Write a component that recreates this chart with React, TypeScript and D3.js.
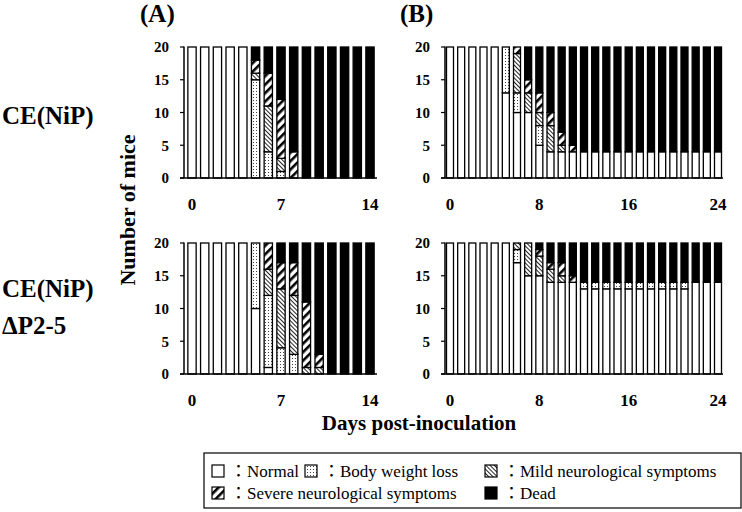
import React from 'react';
import * as d3 from 'd3';

// ---------- DATA ----------
const daysA = [0, 1, 2, 3, 4, 5, 6, 7, 8, 9, 10, 11, 12, 13, 14];
const daysB = [0, 1, 2, 3, 4, 5, 6, 7, 8, 9, 10, 11, 12, 13, 14, 15, 16, 17, 18, 19, 20, 21, 22, 23, 24];
const ticksA = [0, 7, 14];
const ticksB = [0, 8, 16, 24];
const yTicks = [0, 5, 10, 15, 20];

// CE(NiP), panel A
const a1Normal = [20, 20, 20, 20, 20, 0, 0, 0, 0, 0, 0, 0, 0, 0, 0];
const a1Bwl = [0, 0, 0, 0, 0, 15, 4, 1, 0, 0, 0, 0, 0, 0, 0];
const a1Mild = [0, 0, 0, 0, 0, 1, 7, 2, 0, 0, 0, 0, 0, 0, 0];
const a1Severe = [0, 0, 0, 0, 0, 2, 5, 9, 4, 0, 0, 0, 0, 0, 0];
const a1Dead = [0, 0, 0, 0, 0, 2, 4, 8, 16, 20, 20, 20, 20, 20, 20];

// CE(NiP), panel B
const b1Normal = [20, 20, 20, 20, 20, 13, 10, 10, 5, 4, 4, 4, 4, 4, 4, 4, 4, 4, 4, 4, 4, 4, 4, 4, 4];
const b1Bwl = [0, 0, 0, 0, 0, 7, 3, 0, 3, 0, 0, 0, 0, 0, 0, 0, 0, 0, 0, 0, 0, 0, 0, 0, 0];
const b1Mild = [0, 0, 0, 0, 0, 0, 6, 3, 2, 4, 1, 0, 0, 0, 0, 0, 0, 0, 0, 0, 0, 0, 0, 0, 0];
const b1Severe = [0, 0, 0, 0, 0, 0, 1, 2, 3, 2, 2, 1, 0, 0, 0, 0, 0, 0, 0, 0, 0, 0, 0, 0, 0];
const b1Dead = [0, 0, 0, 0, 0, 0, 0, 5, 7, 10, 13, 15, 16, 16, 16, 16, 16, 16, 16, 16, 16, 16, 16, 16, 16];

// CE(NiP)ΔP2-5, panel A
const a2Normal = [20, 20, 20, 20, 20, 10, 1, 0, 0, 0, 0, 0, 0, 0, 0];
const a2Bwl = [0, 0, 0, 0, 0, 10, 11, 4, 3, 0, 0, 0, 0, 0, 0];
const a2Mild = [0, 0, 0, 0, 0, 0, 4, 9, 9, 1, 1, 0, 0, 0, 0];
const a2Severe = [0, 0, 0, 0, 0, 0, 4, 4, 5, 10, 2, 0, 0, 0, 0];
const a2Dead = [0, 0, 0, 0, 0, 0, 0, 3, 3, 9, 17, 20, 20, 20, 20];

// CE(NiP)ΔP2-5, panel B
const b2Normal = [20, 20, 20, 20, 20, 20, 17, 15, 15, 14, 14, 14, 13, 13, 13, 13, 13, 13, 13, 13, 13, 13, 14, 14, 14];
const b2Bwl = [0, 0, 0, 0, 0, 0, 2, 0, 0, 0, 0, 0, 1, 1, 1, 1, 1, 1, 1, 1, 1, 1, 0, 0, 0];
const b2Mild = [0, 0, 0, 0, 0, 0, 1, 5, 3, 2, 1, 0, 0, 0, 0, 0, 0, 0, 0, 0, 0, 0, 0, 0, 0];
const b2Severe = [0, 0, 0, 0, 0, 0, 0, 0, 1, 1, 2, 1, 0, 0, 0, 0, 0, 0, 0, 0, 0, 0, 0, 0, 0];
const b2Dead = [0, 0, 0, 0, 0, 0, 0, 0, 1, 3, 3, 5, 6, 6, 6, 6, 6, 6, 6, 6, 6, 6, 6, 6, 6];

const keys = ['normal', 'bwl', 'mild', 'severe', 'dead'];
const legendLabels = ['Normal', 'Body weight loss', 'Mild neurological symptoms', 'Severe neurological symptoms', 'Dead'];

// ---------- STYLE ----------
const SERIF = '"Liberation Serif", "Times New Roman", "DejaVu Serif", serif';
const LEGEND_FONT = '"Liberation Serif", "Times New Roman", "Noto Sans CJK JP", serif';
const fills: Record<string, string> = {
  normal: '#ffffff',
  bwl: 'url(#pDots)',
  mild: 'url(#pMild)',
  severe: 'url(#pSevere)',
  dead: '#000000',
};

function buildRows(days: number[], n: number[], b: number[], m: number[], s: number[], d: number[]) {
  return days.map((day, i) => ({ day, normal: n[i], bwl: b[i], mild: m[i], severe: s[i], dead: d[i] }));
}

type PanelProps = {
  rows: any[];
  days: number[];
  xTicks: number[];
  axisX: number;
  axisEnd: number;
  xRange: [number, number];
  yTop: number;
  yBottom: number;
  barW: number;
};

function Panel({ rows, days, xTicks, axisX, axisEnd, xRange, yTop, yBottom, barW }: PanelProps) {
  const x = d3.scalePoint<number>().domain(days).range(xRange);
  const y = d3.scaleLinear().domain([0, 20]).range([yBottom, yTop]);
  const series = d3.stack<any>().keys(keys)(rows);
  return (
    <g>
      {series.map((s) => (
        <g key={s.key}>
          {s.map((seg, i) => {
            const h = y(seg[0]) - y(seg[1]);
            if (h <= 0) return null;
            return (
              <rect
                key={i}
                x={(x(seg.data.day) as number) - barW / 2}
                y={y(seg[1])}
                width={barW}
                height={h}
                fill={fills[s.key]}
                stroke="#000"
                strokeWidth={1.3}
              />
            );
          })}
        </g>
      ))}
      {/* y axis */}
      <line x1={axisX} x2={axisX} y1={y(20) - 0.5} y2={y(0)} stroke="#000" strokeWidth={1.5} />
      {yTicks.map((t) => (
        <g key={t}>
          <line x1={axisX - 4} x2={axisX} y1={y(t)} y2={y(t)} stroke="#000" strokeWidth={1.2} />
          <text
            x={axisX - 15}
            y={y(t)}
            dy="0.35em"
            textAnchor="end"
            fontFamily={SERIF}
            fontWeight="bold"
            fontSize={15}
          >
            {t}
          </text>
        </g>
      ))}
      {/* x axis */}
      <line x1={axisX - 4} x2={axisEnd} y1={y(0)} y2={y(0)} stroke="#000" strokeWidth={1.5} />
      {xTicks.map((t) => (
        <text
          key={t}
          x={x(t) as number}
          y={y(0) + 32}
          textAnchor="middle"
          fontFamily={SERIF}
          fontWeight="bold"
          fontSize={17}
        >
          {t}
        </text>
      ))}
    </g>
  );
}

export default function App() {
  const rowsA1 = buildRows(daysA, a1Normal, a1Bwl, a1Mild, a1Severe, a1Dead);
  const rowsB1 = buildRows(daysB, b1Normal, b1Bwl, b1Mild, b1Severe, b1Dead);
  const rowsA2 = buildRows(daysA, a2Normal, a2Bwl, a2Mild, a2Severe, a2Dead);
  const rowsB2 = buildRows(daysB, b2Normal, b2Bwl, b2Mild, b2Severe, b2Dead);

  const panelA = { days: daysA, xTicks: ticksA, axisX: 184, axisEnd: 377, xRange: [192, 370] as [number, number], barW: 8.3 };
  const panelB = { days: daysB, xTicks: ticksB, axisX: 445, axisEnd: 723, xRange: [450, 718] as [number, number], barW: 7 };
  const top = { yTop: 47, yBottom: 178 };
  const bottom = { yTop: 243, yBottom: 374 };

  const legendItems = [
    { key: 'normal', sx: 212, sy: 465 },
    { key: 'bwl', sx: 305, sy: 465 },
    { key: 'mild', sx: 485, sy: 465 },
    { key: 'severe', sx: 212, sy: 487 },
    { key: 'dead', sx: 485, sy: 487 },
  ];

  return (
    <svg
      width={742}
      height={512}
      viewBox="0 0 742 512"
      style={{ position: 'absolute', left: 0, top: 0, background: '#fff' }}
    >
      <defs>
        <pattern id="pDots" patternUnits="userSpaceOnUse" width={3} height={3}>
          <rect width={3} height={3} fill="#fff" />
          <rect x={1} y={1} width={1} height={1} fill="#444" />
        </pattern>
        <pattern id="pMild" patternUnits="userSpaceOnUse" width={3} height={3} patternTransform="rotate(45)">
          <rect width={3} height={3} fill="#fff" />
          <rect x={0} y={0} width={3} height={1} fill="#222" />
        </pattern>
        <pattern id="pSevere" patternUnits="userSpaceOnUse" width={6} height={6} patternTransform="rotate(-45)">
          <rect width={6} height={6} fill="#fff" />
          <rect x={0} y={0} width={6} height={2.6} fill="#000" />
        </pattern>
      </defs>
      <rect width={742} height={512} fill="#fff" />

      <text x={140} y={22} fontFamily={SERIF} fontWeight="bold" fontSize={25}>(A)</text>
      <text x={400} y={22} fontFamily={SERIF} fontWeight="bold" fontSize={25}>(B)</text>

      <text x={2} y={124} fontFamily={SERIF} fontWeight="bold" fontSize={25}>CE(NiP)</text>
      <text x={2} y={297} fontFamily={SERIF} fontWeight="bold" fontSize={25}>CE(NiP)</text>
      <text x={2} y={334} fontFamily={SERIF} fontWeight="bold" fontSize={25}>ΔP2-5</text>

      <text
        transform="translate(135,210) rotate(-90)"
        textAnchor="middle"
        fontFamily={SERIF}
        fontWeight="bold"
        fontSize={22}
      >
        Number of mice
      </text>

      <Panel rows={rowsA1} {...panelA} {...top} />
      <Panel rows={rowsB1} {...panelB} {...top} />
      <Panel rows={rowsA2} {...panelA} {...bottom} />
      <Panel rows={rowsB2} {...panelB} {...bottom} />

      <text x={419} y={430} textAnchor="middle" fontFamily={SERIF} fontWeight="bold" fontSize={21}>
        Days post-inoculation
      </text>

      {/* legend */}
      <rect x={204} y={453} width={537} height={55} fill="none" stroke="#000" strokeWidth={1.2} />
      {legendItems.map((it) => {
        const idx = keys.indexOf(it.key);
        return (
          <g key={it.key}>
            <rect x={it.sx} y={it.sy} width={12} height={12} fill={fills[it.key]} stroke="#000" strokeWidth={1.2} />
            <text x={it.sx + 18} y={it.sy + 12} fontFamily={LEGEND_FONT} fontSize={17}>
              {'：' + legendLabels[idx]}
            </text>
          </g>
        );
      })}
    </svg>
  );
}
